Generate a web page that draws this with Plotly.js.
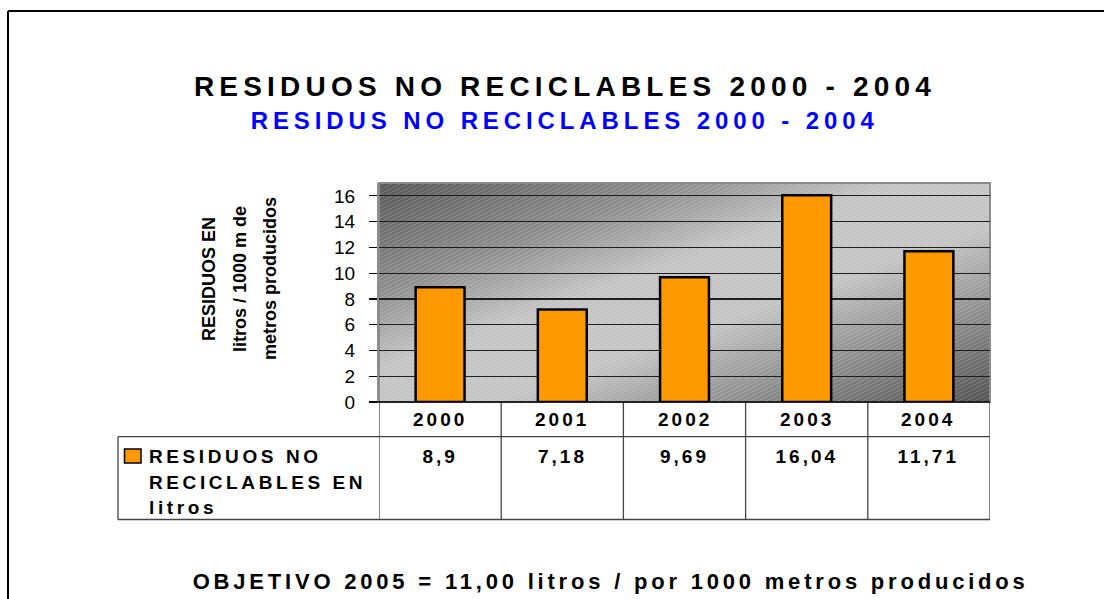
<!DOCTYPE html>
<html>
<head>
<meta charset="utf-8">
<script src="https://cdn.plot.ly/plotly-3.0.1.min.js"></script>
<style>
html,body{margin:0;padding:0;background:#fff;}
#chart{width:1104px;height:599px;}
</style>
</head>
<body>
<div id="chart"></div>
<script>
var years = ['2000', '2001', '2002', '2003', '2004'];
var residuos = [8.9, 7.18, 9.69, 16.04, 11.71];
var seriesName = 'RESIDUOS NO RECICLABLES EN litros';
var legendLines = ['RESIDUOS NO', 'RECICLABLES EN', 'litros'];
var yTitleLines = ['RESIDUOS EN', 'litros / 1000 m de', 'metros producidos'];
var yTicks = [0, 2, 4, 6, 8, 10, 12, 14, 16];
var titleText = 'RESIDUOS NO RECICLABLES 2000 - 2004';
var subtitleText = 'RESIDUS NO RECICLABLES 2000 - 2004';
var goalText = 'OBJETIVO 2005 = 11,00 litros / por 1000 metros producidos';

var FONT = 'Liberation Sans, Arial, sans-serif';
var L = 379, R = 990, T = 183, B = 402;
var W = R - L, H = B - T;
function px(x) { return (x - L) / W; }
function py(y) { return (B - y) / H; }

var annotations = [];
var spacing = [];
function addAnn(a, ls) { annotations.push(a); spacing.push(ls); }

// subtitle
addAnn({text: subtitleText, xref: 'paper', yref: 'paper', x: px(565), y: py(120),
  xanchor: 'center', yanchor: 'middle', showarrow: false,
  font: {family: FONT, size: 24, color: '#0000ff', weight: 'bold'}}, '4.9px');
// goal
addAnn({text: goalText, xref: 'paper', yref: 'paper', x: px(610), y: py(581),
  xanchor: 'center', yanchor: 'middle', showarrow: false,
  font: {family: FONT, size: 22, color: '#000', weight: 'bold'}}, '3.8px');
// y title lines
var yTitleX = [209, 240, 270];
yTitleLines.forEach(function (t, i) {
  addAnn({text: t, xref: 'paper', yref: 'paper', x: px(yTitleX[i]), y: py(279),
    xanchor: 'center', yanchor: 'middle', showarrow: false, textangle: -90,
    font: {family: FONT, size: 18, color: '#000', weight: 'bold'}}, '0px');
});
// table header and values
years.forEach(function (yr, i) {
  addAnn({text: yr, xref: 'x', yref: 'paper', x: i, y: py(419.5),
    xanchor: 'center', yanchor: 'middle', showarrow: false,
    font: {family: FONT, size: 19, color: '#000', weight: 'bold'}}, '3px');
  addAnn({text: String(residuos[i]).replace('.', ','), xref: 'x', yref: 'paper', x: i, y: py(456),
    xanchor: 'center', yanchor: 'middle', showarrow: false,
    font: {family: FONT, size: 19, color: '#000', weight: 'bold'}}, '3px');
});
// legend text lines
var legY = [456, 482, 507];
legendLines.forEach(function (t, i) {
  addAnn({text: t, xref: 'paper', yref: 'paper', x: px(147), y: py(legY[i]),
    xanchor: 'left', yanchor: 'middle', showarrow: false, align: 'left',
    font: {family: FONT, size: 19, color: '#000', weight: 'bold'}}, '3.6px');
});

var shapes = [];
// outer border
shapes.push({type: 'line', xref: 'paper', yref: 'paper', x0: px(8), x1: px(1110), y0: py(11), y1: py(11), line: {color: '#000', width: 2}});
shapes.push({type: 'line', xref: 'paper', yref: 'paper', x0: px(8), x1: px(8), y0: py(11), y1: py(605), line: {color: '#000', width: 2}});
// plot border (gray)
shapes.push({type: 'rect', xref: 'paper', yref: 'paper', x0: 0, x1: 1, y0: 0, y1: 1, line: {color: '#8c8c8c', width: 2}, layer: 'below'});
// table lines
for (var k = 0; k <= years.length; k++) {
  shapes.push({type: 'line', xref: 'x', yref: 'paper', x0: k - 0.5, x1: k - 0.5, y0: 0, y1: py(519.5), line: {color: '#444', width: 1.3}});
}
shapes.push({type: 'line', xref: 'paper', yref: 'paper', x0: px(118), x1: 1, y0: py(436.7), y1: py(436.7), line: {color: '#444', width: 1.3}});
shapes.push({type: 'line', xref: 'paper', yref: 'paper', x0: px(118), x1: 1, y0: py(519.5), y1: py(519.5), line: {color: '#444', width: 1.3}});
shapes.push({type: 'line', xref: 'paper', yref: 'paper', x0: px(118), x1: px(118), y0: py(436.7), y1: py(519.5), line: {color: '#444', width: 1.3}});
// bottom axis line
shapes.push({type: 'line', xref: 'paper', yref: 'paper', x0: px(371), x1: 1, y0: 0, y1: 0, line: {color: '#000', width: 1.3}});
// legend key
shapes.push({type: 'rect', xref: 'paper', yref: 'paper', x0: px(124.5), x1: px(141), y0: py(449), y1: py(463), fillcolor: '#ff9900', line: {color: '#000', width: 1.5}});

var data = [{
  type: 'bar', x: years, y: residuos, name: seriesName,
  marker: {color: '#ff9900', line: {color: '#000', width: 2.5}},
  hoverinfo: 'skip'
}];

var layout = {
  width: 1104, height: 599,
  margin: {l: L, r: 1104 - R, t: T, b: 599 - B, pad: 0},
  paper_bgcolor: '#fff', plot_bgcolor: '#c0c0c0',
  showlegend: false,
  bargap: 0.6,
  title: {text: titleText, x: 565 / 1104, xanchor: 'center', xref: 'container',
    y: 1 - 86 / 599, yanchor: 'middle', yref: 'container',
    font: {family: FONT, size: 28, color: '#000', weight: 'bold'}},
  xaxis: {type: 'category', categoryorder: 'array', categoryarray: years,
    range: [-0.5, years.length - 0.5], showticklabels: false, ticks: '',
    showgrid: false, zeroline: false, showline: false, fixedrange: true},
  yaxis: {range: [0, 17], tickvals: yTicks, ticktext: yTicks.map(String),
    ticks: 'outside', ticklen: 8, tickcolor: '#000', tickwidth: 1.2,
    ticklabelstandoff: 10,
    tickfont: {family: FONT, size: 19, color: '#000'},
    showgrid: true, gridcolor: '#1e1e1e', gridwidth: 1.2,
    zeroline: false, showline: true, linecolor: '#8c8c8c', linewidth: 2,
    fixedrange: true},
  annotations: annotations,
  shapes: shapes
};

var gd = document.getElementById('chart');
Plotly.newPlot(gd, data, layout, {staticPlot: true, displayModeBar: false}).then(function () {
  var t = gd.querySelector('.gtitle');
  if (t) t.style.letterSpacing = '5.2px';
  var anns = gd.querySelectorAll('g.annotation');
  anns.forEach(function (g, i) {
    var tx = g.querySelector('text.annotation-text');
    if (tx && spacing[i]) tx.style.letterSpacing = spacing[i];
  });
  var svg = gd.querySelector('svg.main-svg');
  var NS = 'http://www.w3.org/2000/svg';
  var defs = document.createElementNS(NS, 'defs');
  var lg = document.createElementNS(NS, 'linearGradient');
  lg.setAttribute('id', 'plotgrad');
  lg.setAttribute('x1', '0'); lg.setAttribute('y1', '0');
  lg.setAttribute('x2', '1'); lg.setAttribute('y2', '1');
  [[0, '#585858'], [0.25, '#8e8e8e'], [0.42, '#c4c4c4'], [0.6, '#c4c4c4'], [0.8, '#8a8a8a'], [1, '#535353']].forEach(function (s) {
    var st = document.createElementNS(NS, 'stop');
    st.setAttribute('offset', s[0]); st.setAttribute('stop-color', s[1]);
    lg.appendChild(st);
  });
  defs.appendChild(lg);
  var pat = document.createElementNS(NS, 'pattern');
  pat.setAttribute('id', 'hatch');
  pat.setAttribute('patternUnits', 'userSpaceOnUse');
  pat.setAttribute('width', '8'); pat.setAttribute('height', '4');
  var p = document.createElementNS(NS, 'path');
  p.setAttribute('d', 'M0,4 L8,0');
  p.setAttribute('stroke', '#ffffff'); p.setAttribute('stroke-opacity', '0.18');
  p.setAttribute('stroke-width', '1');
  pat.appendChild(p);
  defs.appendChild(pat);
  svg.insertBefore(defs, svg.firstChild);
  var bg = svg.querySelector('rect.bg');
  if (bg) {
    bg.style.fill = 'url(#plotgrad)';
    bg.style.fillOpacity = '1';
    var h = bg.cloneNode(false);
    h.style.fill = 'url(#hatch)';
    h.setAttribute('class', 'hatch');
    bg.parentNode.insertBefore(h, bg.nextSibling);
  }
});
</script>
</body>
</html>
